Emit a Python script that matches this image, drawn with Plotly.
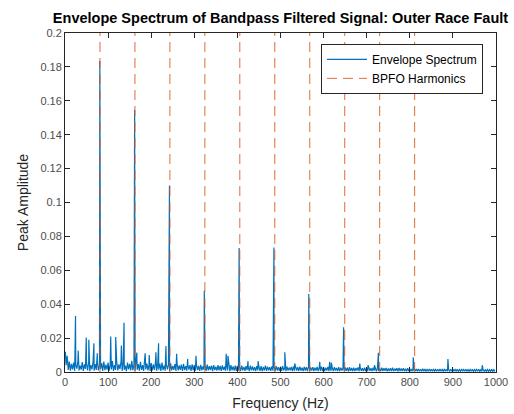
import numpy as np
import plotly.graph_objects as go

# ---------------- data ----------------
FREQ_STEP = 2.5  # Hz, grid of the noise floor
# noise-floor amplitudes (units of 1e-4), 40 samples per 100 Hz
floor_0_100 = [118, 40, 95, 12, 62, 8, 48, 15, 55, 6, 42, 20, 66, 9, 38, 14, 58, 7, 45, 18,
               50, 10, 63, 5, 41, 16, 57, 8, 47, 12, 68, 9, 39, 17, 53, 6, 61, 11, 44, 14]
floor_100_200 = [56, 8, 47, 15, 64, 6, 40, 12, 58, 9, 45, 17, 62, 7, 50, 13, 38, 5, 55, 16,
                 48, 9, 66, 11, 42, 6, 53, 14, 46, 8, 60, 12, 41, 7, 57, 15, 49, 10, 44, 6]
floor_200_300 = [52, 9, 45, 12, 58, 7, 40, 14, 49, 6, 55, 11, 38, 8, 47, 15, 42, 5, 51, 10,
                 36, 13, 46, 7, 50, 9, 39, 12, 44, 6, 48, 11, 35, 8, 43, 14, 40, 7, 45, 10]
floor_300_400 = [40, 8, 44, 11, 36, 6, 42, 10, 33, 13, 39, 7, 43, 9, 35, 12, 38, 5, 41, 11,
                 32, 8, 40, 10, 36, 6, 39, 12, 31, 7, 37, 9, 34, 5, 41, 10, 33, 8, 38, 6]
floor_400_500 = [36, 8, 32, 6, 38, 10, 30, 7, 35, 11, 31, 5, 37, 9, 33, 8, 29, 6, 35, 10,
                 31, 7, 34, 5, 30, 9, 37, 6, 32, 10, 28, 7, 33, 8, 31, 5, 35, 9, 29, 7]
floor_500_600 = [32, 7, 34, 9, 28, 5, 31, 8, 26, 10, 30, 5, 33, 7, 27, 9, 29, 6, 32, 8,
                 25, 5, 30, 9, 28, 6, 31, 5, 27, 8, 29, 6, 26, 9, 30, 5, 28, 7, 32, 6]
floor_600_700 = [28, 6, 26, 8, 30, 5, 25, 7, 27, 5, 29, 9, 24, 6, 28, 5, 26, 8, 23, 5,
                 27, 7, 25, 4, 28, 7, 24, 6, 26, 5, 23, 8, 27, 5, 25, 7, 22, 5, 26, 6]
floor_700_800 = [24, 5, 26, 7, 22, 5, 25, 7, 23, 4, 24, 6, 21, 5, 26, 5, 22, 7, 24, 4,
                 21, 6, 23, 5, 25, 5, 20, 7, 22, 4, 24, 6, 21, 5, 23, 5, 20, 4, 22, 6]
floor_800_900 = [20, 5, 18, 4, 19, 6, 17, 5, 18, 4, 16, 5, 19, 4, 17, 5, 15, 4, 18, 5,
                 16, 4, 17, 5, 15, 4, 16, 5, 18, 4, 15, 5, 17, 4, 16, 4, 14, 5, 16, 4]
floor_900_1000 = [17, 4, 15, 5, 16, 4, 14, 5, 17, 4, 15, 4, 16, 5, 14, 4, 15, 4, 16, 4,
                  14, 5, 15, 4, 16, 4, 14, 4, 15, 5, 13, 4, 15, 4, 14, 4, 16, 4, 14, 4]

# isolated spectral lines (Hz, amplitude)
spike_freq = [1.0, 24.4, 30.6, 49.2, 55.3, 67.1, 74.9,
              80.8, 106.0, 117.6, 130.8, 137.0, 161.6, 166.6, 186.0, 195.3, 210.9, 217.1,
              234.2, 242.4, 259.0, 284.7, 304.0, 323.2, 374.0, 378.0, 404.0, 424.6, 448.0,
              484.8, 510.0, 533.0, 565.6, 591.0, 614.0, 618.0, 646.4, 684.0, 703.0, 718.0,
              727.2, 808.0, 888.5, 968.0]
spike_amp = [0.0116, 0.033, 0.0126, 0.0204, 0.019, 0.017, 0.011,
             0.1835, 0.021, 0.0206, 0.0156, 0.029, 0.1546, 0.0114, 0.011, 0.010, 0.0116, 0.017,
             0.0154, 0.110, 0.0108, 0.0076, 0.0096, 0.048, 0.0108, 0.0096, 0.0732, 0.0064, 0.0064,
             0.0735, 0.0116, 0.005, 0.046, 0.006, 0.006, 0.0055, 0.0264, 0.005, 0.004, 0.004,
             0.0114, 0.0086, 0.0076, 0.004]

BPFO = 81.125
harmonic_orders = [1, 2, 3, 4, 5, 6, 7, 8, 9, 10]

# ---------------- build spectrum ----------------
floor_vals = np.array(floor_0_100 + floor_100_200 + floor_200_300 + floor_300_400 + floor_400_500 +
                      floor_500_600 + floor_600_700 + floor_700_800 + floor_800_900 + floor_900_1000) * 1e-4
floor_freq = np.arange(len(floor_vals)) * FREQ_STEP
freq = np.concatenate([floor_freq, np.array(spike_freq)])
amp = np.concatenate([floor_vals, np.array(spike_amp)])
order = np.argsort(freq, kind="stable")
freq = freq[order]
amp = amp[order]

BLUE = "#0072BD"
ORANGE = "#D95319"
AX = "#262626"
FONT = "Liberation Sans, Arial, sans-serif"

fig = go.Figure()
fig.add_trace(go.Scatter(x=freq, y=amp, mode="lines", name="Envelope Spectrum",
                         line=dict(color=BLUE, width=1.2)))

# harmonic lines: one trace with gaps
hx, hy = [], []
for k in harmonic_orders:
    hx += [k * BPFO, k * BPFO, None]
    hy += [0, 0.2, None]
fig.add_trace(go.Scatter(x=hx, y=hy, mode="lines", name="BPFO Harmonics",
                         line=dict(color=ORANGE, width=1, dash="10px,6px"), opacity=0.85))

axis_common = dict(showgrid=False, zeroline=False, showline=True, linecolor=AX, linewidth=1,
                   mirror="ticks", ticks="inside", ticklen=5, tickcolor=AX, tickwidth=1,
                   automargin=False,
                   tickfont=dict(family=FONT, size=11, color="#4d4d4d"))

fig.update_xaxes(range=[0, 1000], tickvals=list(range(0, 1001, 100)),
                 title=dict(text="Frequency (Hz)", standoff=10,
                            font=dict(family=FONT, size=14, color=AX)),
                 **axis_common)
fig.update_yaxes(range=[0, 0.2], tickvals=[0, 0.02, 0.04, 0.06, 0.08, 0.1, 0.12, 0.14, 0.16, 0.18, 0.2],
                 ticktext=["0", "0.02", "0.04", "0.06", "0.08", "0.1", "0.12", "0.14", "0.16", "0.18", "0.2"],
                 title=dict(text="Peak Amplitude", standoff=8,
                            font=dict(family=FONT, size=14, color=AX)),
                 **axis_common)

fig.update_layout(
    width=514, height=414,
    margin=dict(l=65, r=18, t=33, b=42),
    paper_bgcolor="white", plot_bgcolor="white",
    title=dict(text="<b>Envelope Spectrum of Bandpass Filtered Signal: Outer Race Fault</b>",
               x=0.5457, xanchor="center", y=1 - 18 / 414, yanchor="middle",
               font=dict(family=FONT, size=14.5, color="black")),
    legend=dict(x=0.97, y=0.968, xanchor="right", yanchor="top", bgcolor="white",
                bordercolor=AX, borderwidth=1,
                font=dict(family=FONT, size=12, color="black"),
                tracegroupgap=0, itemwidth=40),
    showlegend=True,
)

fig.write_html("out.html")
